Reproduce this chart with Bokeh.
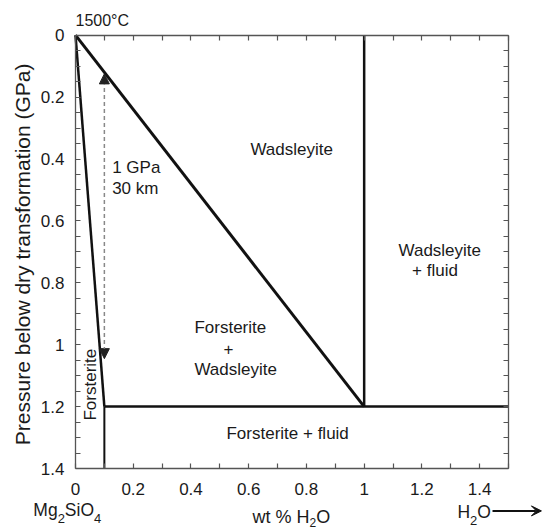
from bokeh.plotting import figure
from bokeh.models import Range1d, LinearAxis, FixedTicker, Label, Arrow, NormalHead, VeeHead
from bokeh.core.properties import value
from bokeh.embed import file_html
from bokeh.resources import INLINE
import math

# ---- data ----
x_ticks = [0, 0.2, 0.4, 0.6, 0.8, 1.0, 1.2, 1.4]
x_tick_labels = ["0", "0.2", "0.4", "0.6", "0.8", "1", "1.2", "1.4"]
x_minor = [0.1, 0.3, 0.5, 0.7, 0.9, 1.1, 1.3, 1.5]
y_ticks = [0, 0.2, 0.4, 0.6, 0.8, 1.0, 1.2, 1.4]
y_tick_labels = ["0", "0.2", "0.4", "0.6", "0.8", "1", "1.2", "1.4"]
y_minor = [0.05, 0.1, 0.15, 0.25, 0.3, 0.35, 0.45, 0.5, 0.55, 0.65, 0.7, 0.75,
           0.85, 0.9, 0.95, 1.05, 1.1, 1.15, 1.25, 1.3, 1.35]
x_lim = [0.0, 1.5]
y_lim = [0.0, 1.4]

# phase boundaries (wt % H2O, GPa below dry transformation)
fo_limit_x = [0.0, 0.1]
fo_limit_y = [0.0, 1.2]
fo_fluid_x = [0.1, 0.1]
fo_fluid_y = [1.2, 1.4]
wad_limit_x = [0.0, 1.0]
wad_limit_y = [0.0, 1.2]
wad_sat_x = [1.0, 1.0]
wad_sat_y = [0.0, 1.2]
fluid_x = [0.1, 1.5]
fluid_y = [1.2, 1.2]

# 1 GPa scale arrow
scale_x = 0.1
scale_y = [0.125, 1.045]

# field labels (left edge, baseline)
field_text = ["Wadsleyite", "1 GPa", "30 km", "Wadsleyite", "+ fluid",
              "Forsterite", "Wadsleyite", "Forsterite + fluid"]
field_x = [0.606, 0.127, 0.127, 1.119, 1.166, 0.412, 0.412, 0.523]
field_y = [0.385, 0.444, 0.512, 0.712, 0.776, 0.963, 1.096, 1.303]

FONT = "Liberation Sans"
TXT = "#1a1a1a"
AX = "#555555"

# ---- layout: the frame fills the canvas, the axes sit at fixed data locations ----
W, H = 543, 528
FL, FR, FT, FB = 75.0, 508.0, 34.7, 468.0
sx = (FR - FL) / (x_lim[1] - x_lim[0])
sy = (FB - FT) / (y_lim[1] - y_lim[0])
xr = Range1d(x_lim[0] - FL / sx, x_lim[1] + (W - FR) / sx)
yr = Range1d(y_lim[1] + (H - FB) / sy, y_lim[0] - FT / sy)
BL = 0.31  # baseline correction, in em

def up(y, size):
    return y - BL * size / sy

p = figure(width=W, height=H, x_range=xr, y_range=yr, title=None,
           min_border_left=0, min_border_right=0, min_border_top=0, min_border_bottom=0,
           output_backend="svg", toolbar_location=None)
p.grid.visible = False
p.outline_line_color = None
p.background_fill_color = "white"
p.border_fill_color = "white"

def style(ax):
    ax.axis_line_color = AX
    ax.axis_line_width = 1.3
    ax.major_tick_line_color = AX
    ax.minor_tick_line_color = AX
    ax.major_tick_line_width = 1.2
    ax.minor_tick_line_width = 1.2
    ax.major_tick_in = 5
    ax.major_tick_out = 0
    ax.minor_tick_in = 5
    ax.minor_tick_out = 0
    ax.major_label_text_font = FONT
    ax.major_label_text_font_size = "17px"
    ax.major_label_text_color = TXT

xa = p.xaxis[0]
xa.ticker = FixedTicker(ticks=x_ticks, minor_ticks=x_minor)
xa.major_label_overrides = dict(zip(x_ticks, x_tick_labels))
xa.fixed_location = y_lim[1]
xa.bounds = tuple(x_lim)
xa.major_label_standoff = 14
style(xa)

ya = p.yaxis[0]
ya.ticker = FixedTicker(ticks=y_ticks, minor_ticks=y_minor)
ya.major_label_overrides = dict(zip(y_ticks, y_tick_labels))
ya.fixed_location = x_lim[0]
ya.bounds = tuple(y_lim)
ya.major_label_standoff = 11
style(ya)

top = LinearAxis(ticker=FixedTicker(ticks=[], minor_ticks=sorted(x_ticks + x_minor)),
                 fixed_location=y_lim[0], bounds=tuple(x_lim))
style(top)
p.add_layout(top, "above")
right = LinearAxis(ticker=FixedTicker(ticks=[], minor_ticks=sorted(y_ticks + y_minor)),
                   fixed_location=x_lim[1], bounds=tuple(y_lim))
style(right)
p.add_layout(right, "right")

LC = "#111111"
p.line(fo_limit_x, fo_limit_y, line_color=LC, line_width=2.5)
p.line(fo_fluid_x, fo_fluid_y, line_color=LC, line_width=2)
p.line(wad_limit_x, wad_limit_y, line_color=LC, line_width=3)
p.line(wad_sat_x, wad_sat_y, line_color=LC, line_width=2.5)
p.line(fluid_x, fluid_y, line_color=LC, line_width=2.5)

p.add_layout(Arrow(start=NormalHead(size=10, fill_color="#222", line_color="#222"),
                   end=NormalHead(size=10, fill_color="#222", line_color="#222"),
                   x_start=scale_x, y_start=scale_y[0], x_end=scale_x, y_end=scale_y[1],
                   line_color="#888888", line_width=1.5, line_dash="4 3"))

FS = 17
p.text(field_x, [up(y, FS) for y in field_y], text=field_text, text_font=value(FONT),
       text_font_size=f"{FS}px", text_color=TXT, text_align="left", text_baseline="alphabetic")
p.text([0.530], [up(1.032, FS)], text=["+"], text_font=value(FONT), text_font_size=f"{FS}px",
       text_color=TXT, text_align="center", text_baseline="alphabetic")
p.text([0.0693 - BL * FS / sx], [1.245], text=["Forsterite"], angle=math.pi / 2,
       text_font=value(FONT), text_font_size=f"{FS}px", text_color=TXT,
       text_align="left", text_baseline="alphabetic")

def lab(x, y, t, size=17, xo=0, align="left", angle=0, baseline="alphabetic"):
    yy = up(y, size) if baseline == "alphabetic" else y
    p.add_layout(Label(x=x, y=yy, text=t, text_font=FONT, text_font_size=f"{size}px",
                       text_color=TXT, x_offset=xo, text_align=align, text_baseline=baseline,
                       angle=angle))

lab(0.0, -0.030, "1500°C", size=16)
lab(-0.1836, 0.708, "Pressure below dry transformation (GPa)", size=21,
    align="center", angle=math.pi / 2, baseline="middle")
# Mg2SiO4
lab(-0.146, 1.552, "Mg", size=17.5)
lab(-0.146, 1.575, "2", size=13, xo=24.3)
lab(-0.146, 1.552, "SiO", size=17.5, xo=31.5)
lab(-0.146, 1.575, "4", size=13, xo=60.7)
# wt % H2O
lab(0.613, 1.576, "wt % H", size=18)
lab(0.613, 1.588, "2", size=12, xo=57.0)
lab(0.613, 1.576, "O", size=18, xo=63.7)
# H2O ->
lab(1.323, 1.558, "H", size=17.5)
lab(1.323, 1.581, "2", size=13, xo=12.6)
lab(1.323, 1.558, "O", size=17.5, xo=19.8)
p.add_layout(Arrow(end=VeeHead(size=10, fill_color="#111", line_color="#111"),
                   x_start=1.4446, y_start=1.537, x_end=1.614, y_end=1.537,
                   line_color="#111", line_width=2))

open("out.html", "w").write(file_html(p, INLINE))
